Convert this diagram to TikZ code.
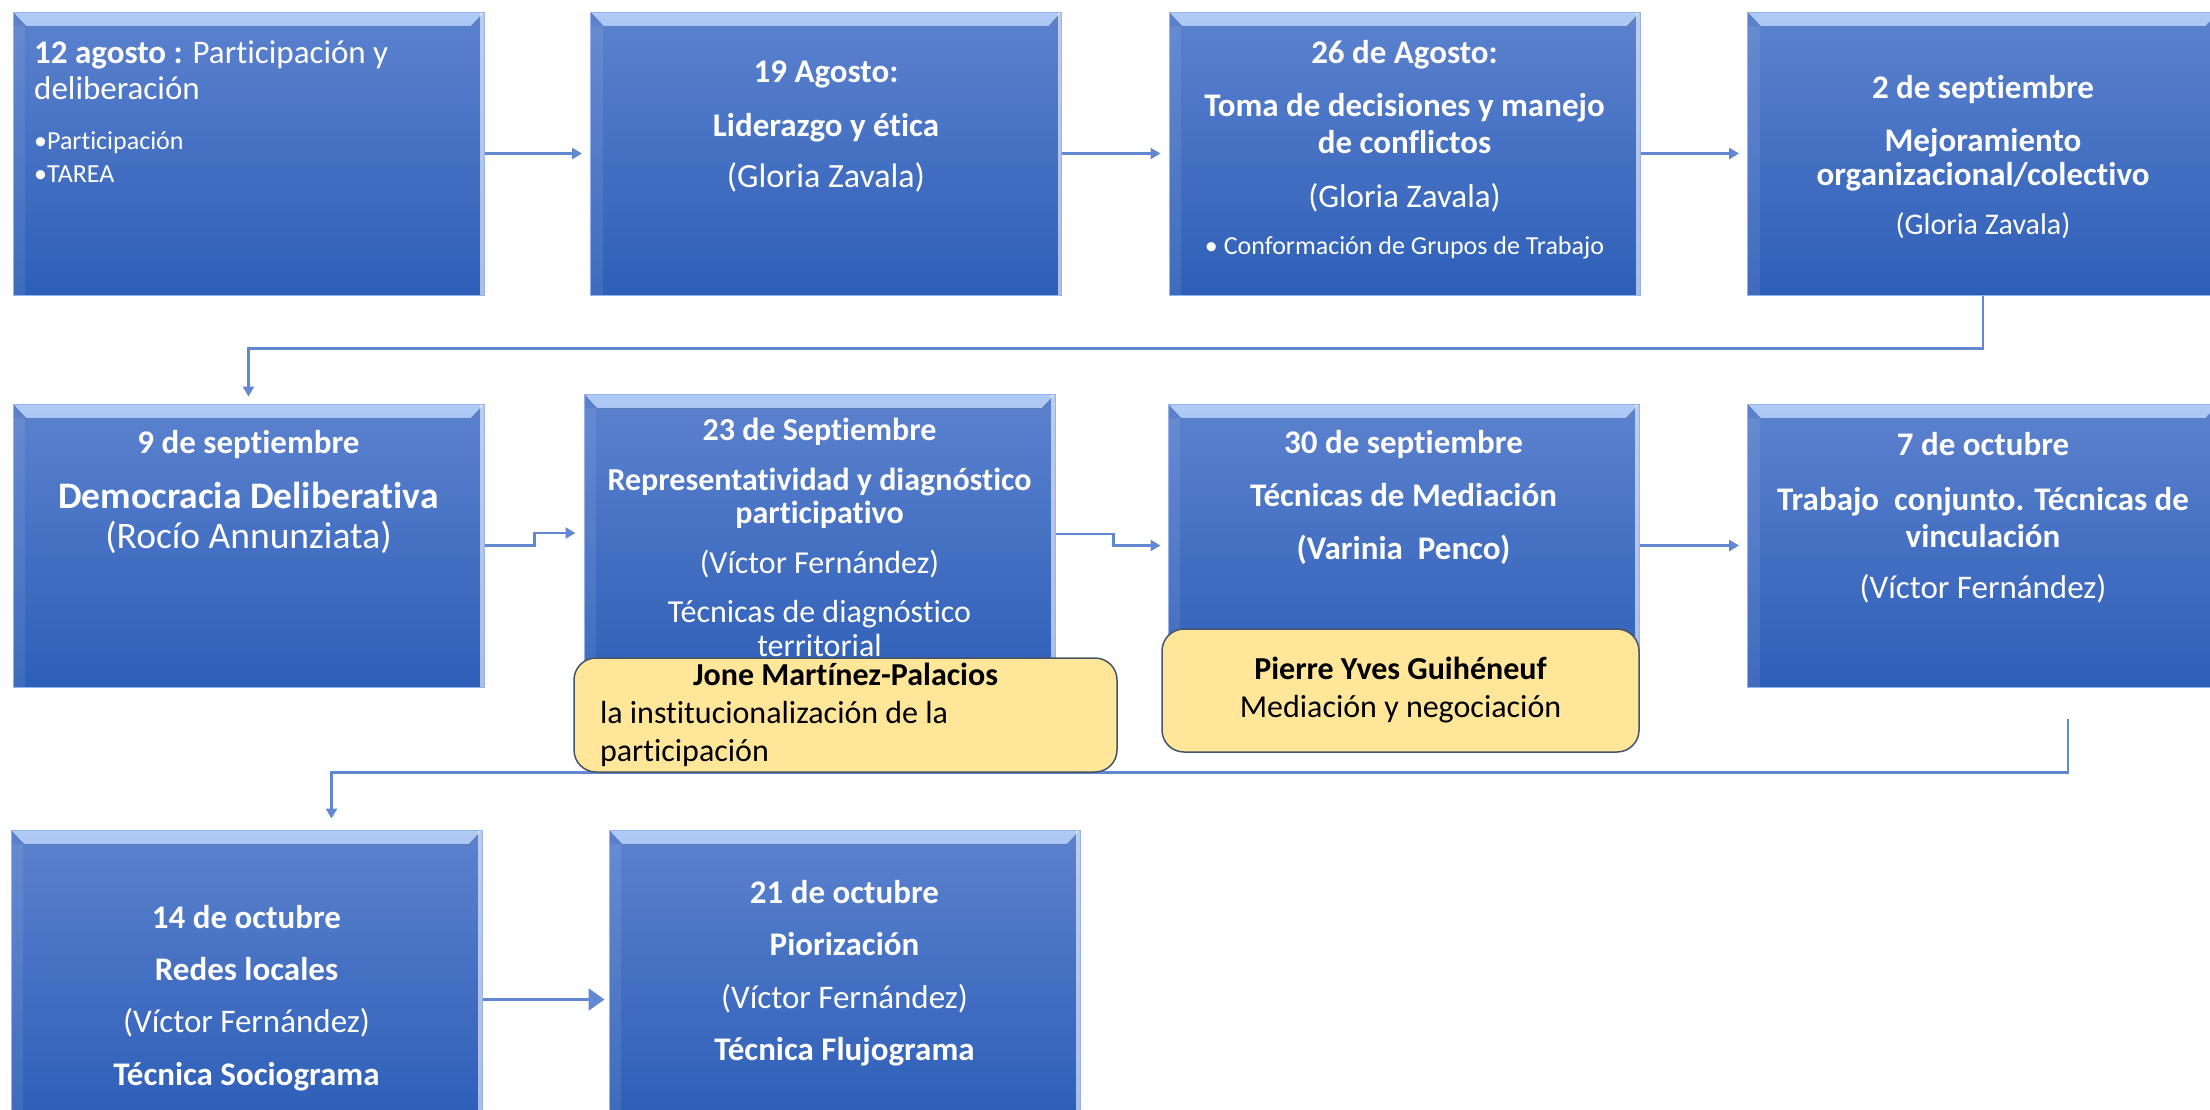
\documentclass[tikz,border=0pt]{standalone}
\usepackage{fontspec}
\setmainfont{Carlito}[Ligatures=NoCommon]
\usetikzlibrary{arrows.meta}

\definecolor{boxtop}{RGB}{92,130,206}
\definecolor{boxbot}{RGB}{46,95,184}
\definecolor{bevtop}{RGB}{175,202,246}
\definecolor{bevbot}{RGB}{102,140,215}
\definecolor{boxedge}{RGB}{150,180,235}
\definecolor{linkblue}{RGB}{98,136,210}
\definecolor{noteyellow}{RGB}{255,230,153}
\definecolor{noteedge}{RGB}{68,84,106}

\begin{document}
\begin{tikzpicture}[x=1pt, y=-1pt,
  sess/.style = {rectangle, inner sep=0pt, minimum width=471pt, minimum height=283pt,
    top color=boxtop, bottom color=boxbot, draw=boxedge, line width=1pt,
    path picture={
      \fill[top color=bevtop, bottom color=bevbot] (path picture bounding box.north west) -- (path picture bounding box.north east)
        -- ([shift={(-13pt,-14pt)}]path picture bounding box.north east) -- ([shift={(13pt,-14pt)}]path picture bounding box.north west) -- cycle;
      \fill[white, opacity=0.08] ([yshift=-14pt]path picture bounding box.north west) rectangle ([xshift=12pt]path picture bounding box.south west);
      \fill[white, opacity=0.6] ([xshift=-4pt]path picture bounding box.north east) rectangle (path picture bounding box.south east);
    }},
  note/.style = {rectangle, rounded corners=22pt, fill=noteyellow, draw=noteedge, line width=1.5pt, inner sep=0pt},
  txt/.style = {text=white, align=center, inner sep=0pt, font=\fontsize{33}{37}\selectfont},
  link/.style = {draw=linkblue, line width=2.5pt, -{Triangle[length=10pt,width=11pt]}, shorten >=8pt}]
\useasboundingbox (0,0) rectangle (2210,1109);

% sessions
\node[sess] (b1) at (248.5,153.5) {};
\node[sess] (b2) at (826,153.5) {};
\node[sess] (b3) at (1404.5,153.5) {};
\node[sess] (b4) at (1983,153.5) {};
\node[sess] (b5) at (248.5,545.5) {};
\node[sess, minimum height=296pt] (b6) at (819.5,542) {};
\node[sess] (b7) at (1403.5,545.5) {};
\node[sess] (b8) at (1983,545.5) {};
\node[sess] (b9) at (246.5,971.5) {};
\node[sess] (b10) at (844.5,971.5) {};

\node[txt, anchor=north west, align=left, font=\fontsize{33}{36}\selectfont] (t1) at (34,41)
  {\textbf{12 agosto :} Participación y\\ deliberación\\[14pt] {\fontsize{26}{30}\selectfont •Participación}\\[-3pt] {\fontsize{26}{30}\selectfont •TAREA}};
\node[txt] (t2) at (826,127)
  {\textbf{19 Agosto:}\\[17pt] \textbf{Liderazgo y ética}\\[14pt] {\fontsize{34}{37}\selectfont (Gloria Zavala)}};
\node[txt] (t3) at (1404.5,150)
  {\textbf{26 de Agosto:}\\[16pt] \textbf{Toma de decisiones y manejo}\\ \textbf{de conflictos}\\[17pt] (Gloria Zavala)\\[10pt]
   {\fontsize{26}{30}\selectfont • Conformación de Grupos de Trabajo}};
\node[txt] (t4) at (1983,157)
  {\textbf{2 de septiembre}\\[16pt] \textbf{Mejoramiento}\\[-3pt] \textbf{organizacional/colectivo}\\[12pt] {\fontsize{30}{35}\selectfont (Gloria Zavala)}};
\node[txt, font=\fontsize{37.5}{40}\selectfont] (t5) at (248.5,492)
  {{\fontsize{33}{37}\selectfont\bfseries 9 de septiembre}\\[15pt] \textbf{Democracia Deliberativa}\\ (Rocío Annunziata)};
\node[txt, font=\fontsize{32}{34}\selectfont] (t6) at (819.5,537)
  {\textbf{23 de Septiembre}\\[16pt] \textbf{Representatividad y diagnóstico}\\[-1pt] \textbf{participativo}\\[16pt] (Víctor Fernández)\\[15pt]
   Técnicas de diagnóstico\\ territorial};
\node[txt] (t7) at (1403.5,497)
  {\textbf{30 de septiembre}\\[16pt] \textbf{Técnicas de Mediación}\\[16pt] \textbf{(Varinia\ \ Penco)}};
\node[txt] (t8) at (1983,518)
  {\textbf{7 de octubre}\\[18pt] \textbf{Trabajo\ \ conjunto. Técnicas de}\\ \textbf{vinculación}\\[14pt] (Víctor Fernández)};
\node[txt] (t9) at (246.5,998)
  {\textbf{14 de octubre}\\[15pt] \textbf{Redes locales}\\[15pt] (Víctor Fernández)\\[16pt] \textbf{Técnica Sociograma}};
\node[txt] (t10) at (844.5,973)
  {\textbf{21 de octubre}\\[15pt] \textbf{Piorización}\\[16pt] (Víctor Fernández)\\[15pt] \textbf{Técnica Flujograma}};

% arrows between sessions
\draw[link] (b1) -- (b2);
\draw[link] (b2) -- (b3);
\draw[link] (b3) -- (b4);
\draw[link, shorten >=7pt] (b4.south) -- ++(0,53) -| (b5.north);
\draw[link] (b5.east) -- ++(50,0) |- ([yshift=9pt]b6.west);
\draw[link, shorten >=7pt] ([yshift=8pt]b6.east) -- ++(58,0) |- (b7.west);
\draw[link] (b7) -- (b8);
\draw[link, shorten >=11pt] ([xshift=85pt,yshift=-31pt]b8.south) -- ++(0,54) -| ([xshift=85pt]b9.north);
\draw[link, -{Triangle[length=16pt,width=22pt]}, shorten >=4pt] ([yshift=-28pt]b9.east) -- ([yshift=-28pt]b10.west);

% guest speakers
\node[note, minimum width=543pt, minimum height=114pt, align=left, font=\fontsize{32}{38}\selectfont] (n1) at (845.5,715)
  {\makebox[491pt][c]{\textbf{Jone Martínez-Palacios}}\\ la institucionalización de la\\ participación};
\node[note, minimum width=477pt, minimum height=123pt, align=center, font=\fontsize{32}{38}\selectfont] (n2) at (1400.5,690.5)
  {\textbf{Pierre Yves Guihéneuf}\\ Mediación y negociación};

\end{tikzpicture}
\end{document}
